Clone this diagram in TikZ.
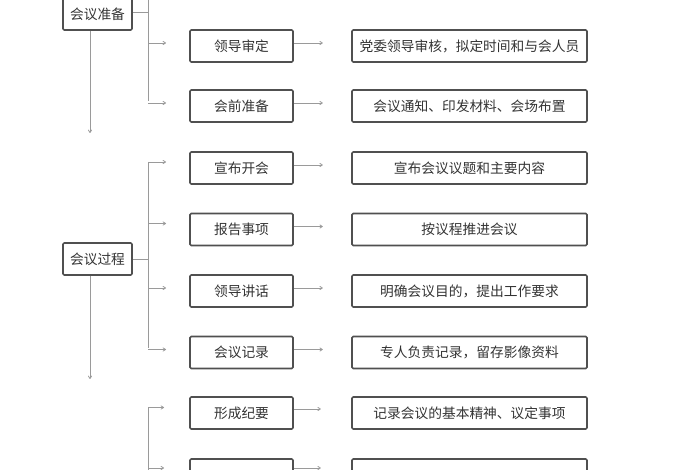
\documentclass[tikz,border=0pt]{standalone}
\usepackage{fontspec}
\usetikzlibrary{arrows.meta, calc}
\newfontfamily\cjk{Noto Sans CJK SC}
\definecolor{boxgray}{HTML}{505050}
\definecolor{linegray}{HTML}{9A9A9A}
\definecolor{txtgray}{HTML}{333333}

\tikzset{
    stagebox/.style={draw=boxgray, line width=1.2pt, rounded corners=1pt, minimum width=51.75pt,
        minimum height=24pt, inner sep=0pt, text=txtgray, font=\cjk\fontsize{10.3}{12}\selectfont},
    itembox/.style={stagebox, minimum width=77.25pt},
    notebox/.style={stagebox, minimum width=176.25pt},
    link/.style={draw=linegray, line width=0.6pt},
    arrowlink/.style={link, -{To[length=2.5pt, width=3pt]}}
}

\begin{document}
\begin{tikzpicture}[x=0.75pt, y=-0.75pt]
        \useasboundingbox (0,0) rectangle (700,470);
        \clip (0,0) rectangle (700,470);

        % Stage: preparation
        \node[stagebox] (prep) at (97.5, 14) {会议准备};
        \node[itembox] (review) at (241.5, 46) {领导审定};
        \node[notebox] (reviewnote) at (469.5, 46) {党委领导审核，拟定时间和与会人员};
        \node[itembox] (ready) at (241.5, 106) {会前准备};
        \node[notebox] (readynote) at (469.5, 106) {会议通知、印发材料、会场布置};

        \coordinate (prepbar) at (148, 12);
        \coordinate (preptop) at (148, -10);
        \coordinate (prepend) at (148, 101);
        \coordinate (prepdown) at (90, 133);
        \draw[link] (prep.east |- prepbar) -- (prepbar);
        \draw[link] (preptop) -- (prepend);
        \draw[arrowlink] ($(review.west -| prepbar)+(0,-3)$) -- ++(18, 0);
        \draw[arrowlink] ($(ready.west -| prepbar)+(0,-3)$) -- ++(18, 0);
        \draw[arrowlink] ($(review.east)+(0,-3)$) -- ++(29, 0);
        \draw[arrowlink] ($(ready.east)+(0,-3)$) -- ++(29, 0);
        \draw[arrowlink] (prep.south -| prepdown) -- (prepdown);

        % Stage: meeting
        \node[stagebox] (meeting) at (97.5, 259) {会议过程};
        \node[itembox] (open) at (241.5, 168) {宣布开会};
        \node[notebox] (opennote) at (469.5, 168) {宣布会议议题和主要内容};
        \node[itembox] (report) at (241.5, 229.5) {报告事项};
        \node[notebox] (reportnote) at (469.5, 229.5) {按议程推进会议};
        \node[itembox] (speech) at (241.5, 291) {领导讲话};
        \node[notebox] (speechnote) at (469.5, 291) {明确会议目的，提出工作要求};
        \node[itembox] (record) at (241.5, 352.5) {会议记录};
        \node[notebox] (recordnote) at (469.5, 352.5) {专人负责记录，留存影像资料};

        \coordinate (meetbar) at (148, 259);
        \coordinate (meettop) at (148, 162);
        \coordinate (meetend) at (148, 348);
        \coordinate (meetdown) at (90, 379);
        \draw[link] (meeting.east) -- (meetbar);
        \draw[link] (meettop) -- (meetend);
        \draw[arrowlink] ($(open.west -| meetbar)+(0,-6)$) -- ++(18, 0);
        \draw[arrowlink] ($(report.west -| meetbar)+(0,-6)$) -- ++(18, 0);
        \draw[arrowlink] ($(speech.west -| meetbar)+(0,-3)$) -- ++(18, 0);
        \draw[arrowlink] ($(record.west -| meetbar)+(0,-3)$) -- ++(18, 0);
        \draw[arrowlink] ($(open.east)+(0,-3)$) -- ++(29, 0);
        \draw[arrowlink] ($(report.east)+(0,-3)$) -- ++(29, 0);
        \draw[arrowlink] ($(speech.east)+(0,-3)$) -- ++(29, 0);
        \draw[arrowlink] ($(record.east)+(0,-3)$) -- ++(29, 0);
        \draw[arrowlink] (meeting.south -| meetdown) -- (meetdown);

        % Stage: after the meeting
        \node[itembox] (summary) at (241.5, 413) {形成纪要};
        \node[notebox] (summarynote) at (469.5, 413) {记录会议的基本精神、议定事项};
        \node[itembox] (nextitem) at (241.5, 475) {};
        \node[notebox] (nextnote) at (469.5, 475) {};

        \coordinate (aftertop) at (148, 407.5);
        \coordinate (afterend) at (148, 490);
        \draw[link] (aftertop) -- (afterend);
        \draw[arrowlink] ($(summary.west -| aftertop)+(0,-5.5)$) -- ++(16, 0);
        \draw[arrowlink] ($(nextitem.west -| aftertop)+(0,-7)$) -- ++(16, 0);
        \draw[arrowlink] ($(summary.east)+(0,-4)$) -- ++(27, 0);
        \draw[arrowlink] ($(nextitem.east)+(0,-7)$) -- ++(27, 0);
    \end{tikzpicture}
\end{document}
